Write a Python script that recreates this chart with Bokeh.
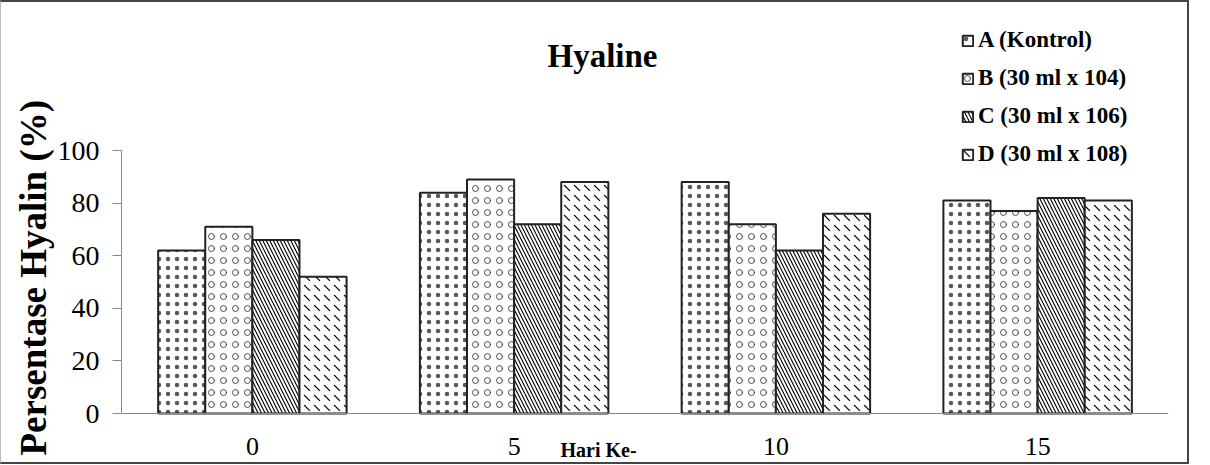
from bokeh.plotting import figure
from bokeh.models import FactorRange, ColumnDataSource, Legend, LegendItem, Label, Title
from bokeh.transform import dodge
from bokeh.embed import file_html
from bokeh.resources import INLINE

days = ["0", "5", "10", "15"]
series_names = ["A (Kontrol)", "B (30 ml x 104)", "C (30 ml x 106)", "D (30 ml x 108)"]
A = [62, 84, 88, 81]
B = [71, 89, 72, 77]
C = [66, 72, 62, 82]
D = [52, 88, 76, 81]
y_ticks = [0, 20, 40, 60, 80, 100]

source = ColumnDataSource(dict(day=days, A=A, B=B, C=C, D=D))

FONT = "Liberation Serif"

p = figure(x_range=FactorRange(*days, range_padding=0), y_range=(-20.15, 152.5),
           width=1189, height=464, output_backend="svg", toolbar_location=None,
           min_border_left=120, min_border_right=22, min_border_top=10, min_border_bottom=0)
p.styles = {"border-top": "2px solid #444", "border-right": "2px solid #444",
            "border-bottom": "2px solid #444", "border-left": "1px solid #bbb"}
p.outline_line_color = None
p.grid.grid_line_color = None
p.background_fill_color = "white"

cols = ["A", "B", "C", "D"]
offsets = [-0.27, -0.09, 0.09, 0.27]
hatch_specs = [
    dict(hatch_pattern="dot", hatch_scale=9, hatch_weight=1.0, hatch_alpha=0.65),
    dict(hatch_pattern="ring", hatch_scale=12, hatch_weight=0.8, hatch_alpha=0.85),
    dict(hatch_pattern="left_diagonal_line", hatch_scale=7, hatch_weight=1.1),
    dict(hatch_pattern="left_diagonal_dash", hatch_scale=10, hatch_weight=1.2),
]
renderers = []
for c, off, hs in zip(cols, offsets, hatch_specs):
    r = p.vbar(x=dodge("day", off, range=p.x_range), top=c, width=0.18, source=source,
               fill_color="white", line_color="#222", line_width=2,
               hatch_color="black", **hs)
    renderers.append(r)

items = [LegendItem(label=n, renderers=[r]) for n, r in zip(series_names, renderers)]
legend = Legend(items=items, location=(840, 299), orientation="vertical",
                label_text_font=FONT, label_text_font_style="bold", label_text_font_size="23px",
                label_text_color="black",
                glyph_width=13, glyph_height=13, label_height=26, spacing=12,
                label_standoff=4, padding=0, margin=0,
                border_line_color=None, background_fill_alpha=0)
p.add_layout(legend, "center")

p.yaxis.ticker = y_ticks
p.yaxis.bounds = (0, 100)
p.yaxis.axis_line_color = "#888"
p.yaxis.major_tick_line_color = "#888"
p.yaxis.major_tick_out = 9
p.yaxis.major_tick_in = 0
p.yaxis.minor_tick_line_color = None
p.yaxis.major_label_text_font = FONT
p.yaxis.major_label_text_font_size = "28px"
p.yaxis.major_label_text_color = "black"
p.yaxis.major_label_standoff = 13

p.xaxis.fixed_location = 0
p.xaxis.axis_line_color = "#888"
p.xaxis.major_tick_line_color = None
p.xaxis.minor_tick_line_color = None
p.xaxis.major_label_text_font = FONT
p.xaxis.major_label_text_font_size = "26px"
p.xaxis.major_label_text_color = "black"
p.xaxis.major_label_standoff = 18

ytitle = Title(text="Persentase Hyalin (%)", align="left", offset=11,
               text_font=FONT, text_font_style="bold", text_font_size="37px",
               text_color="black", standoff=2)
p.add_layout(ytitle, "left")

title = Label(x=481, y=411, x_units="screen", y_units="screen", text="Hyaline",
              text_font=FONT, text_font_style="bold", text_font_size="33px",
              text_color="black", text_align="center", text_baseline="middle")
p.add_layout(title)
xl = Label(x=477, y=17, x_units="screen", y_units="screen", text="Hari Ke-",
           text_font=FONT, text_font_style="bold", text_font_size="20px",
           text_color="black", text_align="center", text_baseline="middle")
p.add_layout(xl)

open("out.html", "w").write(file_html(p, INLINE))
